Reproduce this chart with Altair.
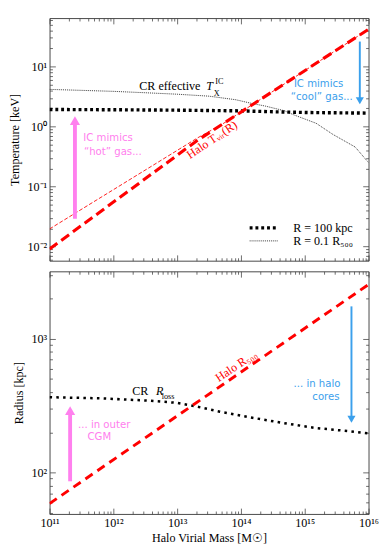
import altair as alt
import pandas as pd

SERIF = "Liberation Serif"
HAND = "DejaVu Sans"
FRAME = "#444444"
RED = "#ff0000"
PINK = "#ff80ee"
BLUE = "#3ba0ec"

# ---------------- data ----------------
# top panel: temperatures [keV] vs halo virial mass [Msun]
tvir_mass = [1e11, 2.09e13, 1.07e14, 1e16]
tvir_keV = [0.0091, 0.589, 1.82, 41.7]
tvir01_mass = [1e11, 2.09e13, 5.01e13, 1.07e14, 1e16]
tvir01_keV = [0.0196, 0.646, 1.08, 1.82, 41.7]
tic100_mass = [1e11, 1e12, 1e13, 1e14, 3.16e14, 1e15, 1e16]
tic100_keV = [1.92, 1.90, 1.87, 1.82, 1.76, 1.71, 1.67]
tic01_mass = [1e11, 3.16e11, 1e12, 3.16e12, 1e13, 3.16e13, 8.3e13, 1.51e14,
              2.4e14, 4.79e14, 6.76e14, 1.51e15, 2.75e15, 6.17e15, 1e16]
tic01_keV = [4.15, 4.0, 3.85, 3.65, 3.45, 3.2, 2.79, 2.41,
             2.19, 1.83, 1.56, 1.13, 0.74, 0.455, 0.25]
legend_names = ["R = 100 kpc", "R = 0.1 R₅₀₀"]

# bottom panel: radii [kpc]
r500_mass = [1e11, 1e16]
r500_kpc = [58.6, 2550]
rloss_mass = [1e11, 6.3e11, 3.6e12, 1e13, 2e13, 4.7e13, 1.51e14, 4.79e14,
              1.51e15, 4.9e15, 1e16]
rloss_kpc = [366, 359, 345, 332, 312, 285, 257, 234, 215, 204, 196]

# arrows: mass, base, head centre (first = pink, second = blue)
arrow_top_mass = [2.5e11, 7.3e15]
arrow_top_base = [0.029, 26.0]
arrow_top_head = [1.25, 2.69]
arrow_bot_mass = [2.1e11, 5.4e15]
arrow_bot_base = [86.0, 1750.0]
arrow_bot_head = [291.0, 250.0]

# axis ranges and ticks
XDOM = [1e11, 1e16]
YDOM_T = [0.0058, 64]
YDOM_R = [49, 3200]
x_major = [1e11, 1e12, 1e13, 1e14, 1e15, 1e16]
x_major_labels = ["10¹¹", "10¹²", "10¹³", "10¹⁴", "10¹⁵", "10¹⁶"]
x_minor = [k * 10.0 ** n for n in range(11, 16) for k in range(2, 10)]
yT_major = [0.01, 0.1, 1, 10]
yT_major_labels = ["10⁻²", "10⁻¹", "10⁰", "10¹"]
yT_minor = [v for v in [k * 10.0 ** n for n in range(-3, 2) for k in range(2, 10)]
            if YDOM_T[0] <= v <= YDOM_T[1]]
yR_major = [100, 1000]
yR_major_labels = ["10²", "10³"]
yR_minor = [v for v in [k * 10.0 ** n for n in range(1, 4) for k in range(2, 10)]
            if YDOM_R[0] <= v <= YDOM_R[1]]


def lab_expr(vals, labs):
    s = "''"
    for v, l in reversed(list(zip(vals, labs))):
        s = f"(abs(datum.value/{v!r} - 1) < 0.01 ? '{l}' : {s})"
    return s


def ax(orient, values, size, labels=None, title=None, title_pad=3):
    kw = dict(orient=orient, values=values, tickSize=size, offset=-size,
              domain=False, grid=False, tickColor=FRAME, tickWidth=0.8,
              title=title, minExtent=0)
    if labels:
        kw.update(labelExpr=labels, labelFont=SERIF, labelFontSize=12.5,
                  labelColor="black", labelPadding=3, labelFlush=False,
                  labelOverlap=False, labelBound=False)
    else:
        kw.update(labels=False)
    if title:
        kw.update(titleFont=SERIF, titleFontSize=12.5, titleFontWeight="normal",
                  titleColor="black", titlePadding=title_pad)
    return alt.Axis(**kw)


def X(axis=None):
    return alt.X("M:Q", scale=alt.Scale(type="log", domain=XDOM, nice=False), axis=axis)


def Y(dom, axis=None, field="V"):
    return alt.Y(f"{field}:Q", scale=alt.Scale(type="log", domain=dom, nice=False), axis=axis)


def Y2(field):
    return alt.Y2(f"{field}:Q")


def axis_layers(ydom, ymaj, ymaj_lab, ymin, ytitle, xlabels, xtitle):
    df = pd.DataFrame({"M": XDOM, "V": ydom})
    base = alt.Chart(df).mark_point(opacity=0, size=1)
    xl = lab_expr(x_major, x_major_labels) if xlabels else None
    l0 = base.encode(x=X(ax("bottom", x_major, 6, xl, xtitle, 3)),
                     y=Y(ydom, ax("left", ymaj, 6, lab_expr(ymaj, ymaj_lab), ytitle, 6)))
    l1 = base.encode(x=X(ax("bottom", x_minor, 3)), y=Y(ydom, ax("left", ymin, 3)))
    l2 = base.encode(x=X(ax("top", x_major, 6)), y=Y(ydom, ax("right", ymaj, 6)))
    l3 = base.encode(x=X(ax("top", x_minor, 3)), y=Y(ydom, ax("right", ymin, 3)))
    return [l0, l1, l2, l3]


def line(mass, vals, dom, color, width, dash):
    df = pd.DataFrame({"M": mass, "V": vals})
    return alt.Chart(df).mark_line(color=color, strokeWidth=width, strokeDash=dash,
                                   strokeCap="butt", clip=True).encode(x=X(), y=Y(dom))


def texts(rows, dom, color, font, size, align="center", style="normal", angle=0):
    df = pd.DataFrame(rows, columns=["M", "V", "t"])
    return alt.Chart(df).mark_text(color=color, font=font, fontSize=size, align=align,
                                   baseline="middle", fontStyle=style, angle=angle).encode(
        x=X(), y=Y(dom), text="t:N")


def arrows(mass, base, head, dom, color, width, shape, hsize):
    df = pd.DataFrame({"M": mass, "B": base, "H": head})
    rule = alt.Chart(df).mark_rule(color=color, strokeWidth=width).encode(
        x=X(), y=Y(dom, field="B"), y2=Y2("H"))
    tri = alt.Chart(df).mark_point(shape=shape, filled=True, color=color, size=hsize,
                                   opacity=1).encode(x=X(), y=Y(dom, field="H"))
    return [rule, tri]


# ---------------- top panel ----------------
leg = alt.Legend(orient="none", legendX=205, legendY=209, title=None,
                 symbolType="M-1,0H4", symbolSize=144, symbolStrokeColor="black",
                 labelFont=SERIF, labelFontSize=12.5, labelColor="black",
                 padding=0, rowPadding=0, labelOffset=31)
dotted_df = pd.DataFrame({
    "M": tic100_mass + tic01_mass,
    "V": tic100_keV + tic01_keV,
    "s": [legend_names[0]] * len(tic100_mass) + [legend_names[1]] * len(tic01_mass),
})
dotted = alt.Chart(dotted_df).mark_line(color="black", strokeCap="butt", clip=True).encode(
    x=X(), y=Y(YDOM_T),
    strokeDash=alt.StrokeDash("s:N", scale=alt.Scale(domain=legend_names, range=[[3, 3], [1, 1]]), legend=leg),
    strokeWidth=alt.StrokeWidth("s:N", scale=alt.Scale(domain=legend_names, range=[3.5, 0.8]), legend=leg),
    detail="s:N",
)

top_layers = axis_layers(YDOM_T, yT_major, yT_major_labels, yT_minor,
                         "Temperature [keV]", False, None)
top_layers += [
    dotted,
    line(tvir01_mass, tvir01_keV, YDOM_T, RED, 0.9, [4, 2]),
    line(tvir_mass, tvir_keV, YDOM_T, RED, 3.2, [10, 5]),
]
top_layers += arrows(arrow_top_mass[:1], arrow_top_base[:1], arrow_top_head[:1], YDOM_T, PINK, 4, "triangle-up", 110)
top_layers += arrows(arrow_top_mass[1:], arrow_top_base[1:], arrow_top_head[1:], YDOM_T, BLUE, 2, "triangle-down", 70)
top_layers += [
    texts([(7.69e12, 4.63, "CR effective")], YDOM_T, "black", SERIF, 12.5),
    texts([(2.85e13, 4.63, "T")], YDOM_T, "black", SERIF, 12.5, "left", "italic"),
    texts([(3.95e13, 5.8, "IC"), (3.75e13, 3.6, "X")], YDOM_T, "black", SERIF, 8.5, "left"),
    texts([(8.26e11, 0.652, "IC mimics"), (9.82e11, 0.378, "“hot” gas...")], YDOM_T, PINK, HAND, 10.5),
    texts([(1.65e15, 5.16, "IC mimics"), (1.85e15, 3.11, "“cool” gas...")], YDOM_T, BLUE, HAND, 10.5),
    texts([(3.51e13, 0.6, "Halo Tᵥᵢᵣ(R)")], YDOM_T, RED, SERIF, 12.5, angle=326),
]
top = alt.layer(*top_layers).resolve_scale(x="independent", y="independent").properties(width=330, height=251)

# ---------------- bottom panel ----------------
bot_layers = axis_layers(YDOM_R, yR_major, yR_major_labels, yR_minor,
                         "Radius [kpc]", True, "Halo Virial Mass [M☉]")
bot_layers += [
    line(rloss_mass, rloss_kpc, YDOM_R, "black", 2.6, [2.6, 4.4]),
    line(r500_mass, r500_kpc, YDOM_R, RED, 3.0, [9, 6]),
]
bot_layers += arrows(arrow_bot_mass[:1], arrow_bot_base[:1], arrow_bot_head[:1], YDOM_R, PINK, 4, "triangle-up", 110)
bot_layers += arrows(arrow_bot_mass[1:], arrow_bot_base[1:], arrow_bot_head[1:], YDOM_R, BLUE, 2, "triangle-down", 70)
bot_layers += [
    texts([(2.65e12, 406, "CR")], YDOM_R, "black", SERIF, 12.5),
    texts([(4.65e12, 406, "R")], YDOM_R, "black", SERIF, 12.5, "left", "italic"),
    texts([(5.73e12, 373, "loss")], YDOM_R, "black", SERIF, 8.5, "left"),
    texts([(7.18e11, 226, "... in outer"), (6.03e11, 185, "CGM")], YDOM_R, PINK, HAND, 10.5),
    texts([(3.63e15, 456, "... in halo"), (3.51e15, 367, "cores")], YDOM_R, BLUE, HAND, 10.5, "right"),
    texts([(8.39e13, 627, "Halo R₅₀₀")], YDOM_R, RED, SERIF, 12.5, angle=326),
]
bottom = alt.layer(*bot_layers).resolve_scale(x="independent", y="independent").properties(width=330, height=251)

chart = alt.vconcat(top, bottom, spacing=9).resolve_legend(
    strokeDash="independent", strokeWidth="independent"
).properties(
    padding={"left": 0, "top": 0, "right": 5, "bottom": 0},
    background="white",
).configure_view(stroke=FRAME, strokeWidth=1).configure_legend(
    labelFont=SERIF, labelFontSize=12.5, labelColor="black"
)

chart.save("out.html", embed_options={"renderer": "svg", "actions": False})
